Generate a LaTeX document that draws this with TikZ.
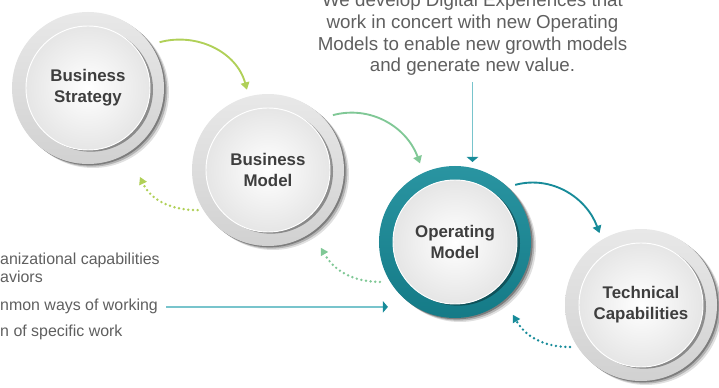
\documentclass[tikz,border=0pt]{standalone}
\usepackage{fontspec}
\setmainfont{Liberation Sans}
\usepackage{tikz}
\usetikzlibrary{arrows.meta, positioning, shadows}
\definecolor{limegreen}{RGB}{176,208,88}
\definecolor{mintgreen}{RGB}{128,200,150}
\definecolor{opteal}{RGB}{23,139,153}
\definecolor{lightteal}{RGB}{120,196,204}
\definecolor{textgrey}{RGB}{95,95,95}
\definecolor{labelgrey}{RGB}{62,62,62}

\begin{document}
\begin{tikzpicture}[
    x=0.03cm, y=0.03cm,
    ring/.style={circle, minimum size=4.56cm, inner sep=0pt, outer sep=0.12cm, top color=black!9, bottom color=black!18,
        drop shadow={shadow xshift=1.5mm, shadow yshift=-1.2mm, opacity=0.12, fill=black},
        drop shadow={shadow xshift=1.0mm, shadow yshift=-0.8mm, opacity=0.2, fill=black},
        drop shadow={shadow xshift=0.5mm, shadow yshift=-0.4mm, opacity=0.3, fill=black}},
    tealring/.style={ring, top color=opteal!92!white, bottom color=opteal!88!black},
    core/.style={circle, minimum size=3.72cm, inner sep=0pt, draw=white, line width=0.8pt, inner color=white, outer color=black!10,
        drop shadow={shadow xshift=0.9mm, shadow yshift=-0.5mm, opacity=0.35, fill=black},
        align=center, text=labelgrey, font=\fontsize{14.4}{18}\selectfont\bfseries},
    desc/.style={text=textgrey, font=\fontsize{16}{18.6}\selectfont, align=center, inner sep=0pt, inner ysep=0.1cm},
    listitem/.style={text=textgrey, font=\fontsize{13.6}{16}\selectfont, inner sep=0pt, anchor=base west},
    flow/.style={-{Triangle[length=0.22cm, width=0.26cm]}, line width=1.6pt},
    back/.style={-{Triangle[length=0.22cm, width=0.24cm]}, line width=2.3pt, dash pattern=on 0pt off 4pt, line cap=round},
    pointer/.style={-{Triangle[length=0.15cm, width=0.34cm, color=opteal]}, lightteal, line width=1.3pt}
]
\useasboundingbox (0,0) rectangle (719,388);

% Business Strategy
\node[ring] (strat) at (88,300) {};
\node[core] (stratcore) at (strat) {Business\\Strategy};

% Business Model
\node[ring] (bmodel) at (268,218) {};
\node[core] (bmodelcore) at (bmodel) {Business\\Model};

% Operating Model
\node[tealring] (opmodel) at (455,146) {};
\node[core] (opmodelcore) at (opmodel) {Operating\\Model};

% Technical Capabilities
\node[ring] (techcap) at (641,83) {};
\node[core] (techcapcore) at (techcap) {Technical\\Capabilities};

% Digital experiences text
\node[desc, anchor=base] (desc) at (472.5,316) {We develop Digital Experiences that\\work in concert with new Operating\\Models to enable new growth models\\and generate new value.};

% Operating model elements
\node[listitem] (org) at (0,123) {anizational capabilities};
\node[listitem] (beh) at (0,105) {aviors};
\node[listitem] (work) at (0,77) {nmon ways of working};
\node[listitem] (spec) at (0,51) {n of specific work};

% Forward arrows
\draw[flow, limegreen] ([shift={(32.6:85)}]strat.center) to[out=15, in=105] ([shift={(104.7:83)}]bmodel.center);
\draw[flow, mintgreen] ([shift={(40.2:85)}]bmodel.center) to[out=15, in=110] ([shift={(114:86)}]opmodel.center);
\draw[flow, opteal] ([shift={(43.5:83)}]opmodel.center) to[out=15, in=110] ([shift={(120:83)}]techcap.center);

% Return arrows
\draw[back, limegreen] ([shift={(209.7:81)}]bmodel.center) to[out=180, in=-65] ([shift={(300.3:103)}]strat.center);
\draw[back, mintgreen] ([shift={(208:85)}]opmodel.center) to[out=180, in=-60] ([shift={(304.2:94)}]bmodel.center);
\draw[back, opteal] ([shift={(210.6:82.5)}]techcap.center) to[out=180, in=-60] ([shift={(308.5:93)}]opmodel.center);

% Pointers to the operating model
\draw[pointer, shorten <=2pt] (desc.south) -- (desc.south |- opmodel.north);
\draw[pointer, shorten <=0.24cm] (work.east) -- (work.east -| opmodel.213);

\end{tikzpicture}
\end{document}
